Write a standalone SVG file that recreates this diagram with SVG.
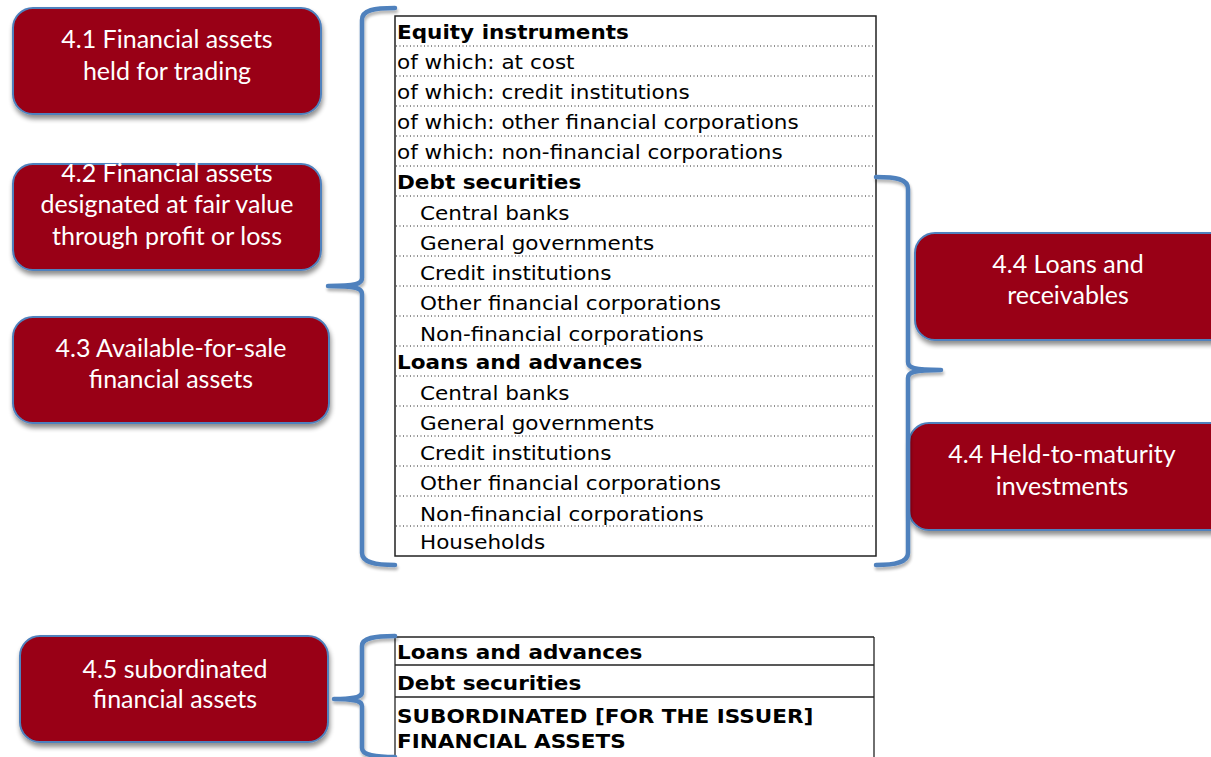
<svg xmlns="http://www.w3.org/2000/svg" width="1211" height="757" viewBox="0 0 1211 757">
<defs>
<filter id="sh" x="-10%" y="-10%" width="120%" height="130%">
<feGaussianBlur in="SourceAlpha" stdDeviation="2.5"/>
<feOffset dx="1" dy="4" result="b"/>
<feComponentTransfer><feFuncA type="linear" slope="0.45"/></feComponentTransfer>
<feMerge><feMergeNode/><feMergeNode in="SourceGraphic"/></feMerge>
</filter>
<filter id="bsh" x="-50%" y="-5%" width="200%" height="110%">
<feGaussianBlur in="SourceAlpha" stdDeviation="1.5"/>
<feOffset dx="1" dy="3"/>
<feComponentTransfer><feFuncA type="linear" slope="0.3"/></feComponentTransfer>
<feMerge><feMergeNode/><feMergeNode in="SourceGraphic"/></feMerge>
</filter>
</defs>
<style>
.box{fill:#990012;stroke:#4F81BD;stroke-width:2;filter:url(#sh)}
.bt{font-family:Lato,"Liberation Sans",sans-serif;font-size:25px;fill:#fff;text-anchor:middle}
.br{fill:none;stroke:#4F81BD;stroke-width:4.5;stroke-linecap:round;stroke-linejoin:round;filter:url(#bsh)}
.tt{font-family:"DejaVu Sans",Verdana,sans-serif;font-size:19.5px;fill:#000}
.b{font-weight:bold}
.dot{stroke:#222;stroke-width:1;stroke-dasharray:1 2.5}
.bd{stroke:#222;stroke-width:1.5;fill:none}
.sl{stroke:#222;stroke-width:1.3}
</style>
<rect width="1211" height="757" fill="#fff"/>

<g id="n41"><rect class="box" x="13" y="8" width="308" height="106" rx="20"/>
<text class="bt" x="167" y="48">4.1 Financial assets</text><text class="bt" x="167" y="80">held for trading</text></g>
<g id="n42"><rect class="box" x="13" y="164" width="308" height="106" rx="20"/>
<text class="bt" x="167" y="182">4.2 Financial assets</text><text class="bt" x="167" y="213">designated at fair value</text><text class="bt" x="167" y="245">through profit or loss</text></g>
<g id="n43"><rect class="box" x="13" y="317" width="316" height="106" rx="20"/>
<text class="bt" x="171" y="357">4.3 Available-for-sale</text><text class="bt" x="171" y="388">financial assets</text></g>
<g id="n44a"><rect class="box" x="915" y="233" width="330" height="107" rx="20"/>
<text class="bt" x="1068" y="273">4.4 Loans and</text><text class="bt" x="1068" y="304">receivables</text></g>
<g id="n44b"><rect class="box" x="909" y="423" width="336" height="107" rx="20"/>
<text class="bt" x="1062" y="463">4.4 Held-to-maturity</text><text class="bt" x="1062" y="495">investments</text></g>
<g id="n45"><rect class="box" x="20" y="636" width="308" height="106" rx="20"/>
<text class="bt" x="175" y="678">4.5 subordinated</text><text class="bt" x="175" y="708">financial assets</text></g>

<g id="table1">
<rect class="bd" x="395" y="16" width="481" height="540"/>
<g>
<line class="dot" x1="396" y1="46" x2="875" y2="46"/>
<line class="dot" x1="396" y1="76" x2="875" y2="76"/>
<line class="dot" x1="396" y1="106" x2="875" y2="106"/>
<line class="dot" x1="396" y1="136" x2="875" y2="136"/>
<line class="dot" x1="396" y1="166" x2="875" y2="166"/>
<line class="dot" x1="396" y1="196" x2="875" y2="196"/>
<line class="dot" x1="396" y1="226" x2="875" y2="226"/>
<line class="dot" x1="396" y1="256" x2="875" y2="256"/>
<line class="dot" x1="396" y1="286" x2="875" y2="286"/>
<line class="dot" x1="396" y1="316" x2="875" y2="316"/>
<line class="dot" x1="396" y1="346" x2="875" y2="346"/>
<line class="dot" x1="396" y1="376" x2="875" y2="376"/>
<line class="dot" x1="396" y1="406" x2="875" y2="406"/>
<line class="dot" x1="396" y1="436" x2="875" y2="436"/>
<line class="dot" x1="396" y1="466" x2="875" y2="466"/>
<line class="dot" x1="396" y1="496" x2="875" y2="496"/>
<line class="dot" x1="396" y1="526" x2="875" y2="526"/>
</g>
<g transform="translate(397 0) scale(1.105 1)">
<text class="tt b" x="0" y="39">Equity instruments</text>
<text class="tt" x="0" y="69">of which: at cost</text>
<text class="tt" x="0" y="99">of which: credit institutions</text>
<text class="tt" x="0" y="129">of which: other financial corporations</text>
<text class="tt" x="0" y="159">of which: non-financial corporations</text>
<text class="tt b" x="0" y="189">Debt securities</text>
<text class="tt" x="20.8" y="220">Central banks</text>
<text class="tt" x="20.8" y="250">General governments</text>
<text class="tt" x="20.8" y="280">Credit institutions</text>
<text class="tt" x="20.8" y="310">Other financial corporations</text>
<text class="tt" x="20.8" y="341">Non-financial corporations</text>
<text class="tt b" x="0" y="369">Loans and advances</text>
<text class="tt" x="20.8" y="400">Central banks</text>
<text class="tt" x="20.8" y="430">General governments</text>
<text class="tt" x="20.8" y="460">Credit institutions</text>
<text class="tt" x="20.8" y="490">Other financial corporations</text>
<text class="tt" x="20.8" y="521">Non-financial corporations</text>
<text class="tt" x="20.8" y="549">Households</text>
</g>
</g>

<g id="table2">
<line class="sl" x1="395" y1="637" x2="874" y2="637"/>
<line class="sl" x1="395" y1="665" x2="874" y2="665"/>
<line class="sl" x1="395" y1="697" x2="874" y2="697"/>
<line class="sl" x1="395" y1="637" x2="395" y2="757"/>
<line class="sl" x1="874" y1="637" x2="874" y2="757"/>
<g transform="translate(397 0) scale(1.105 1)">
<text class="tt b" x="0" y="659">Loans and advances</text>
<text class="tt b" x="0" y="690">Debt securities</text>
<text class="tt b" x="0" y="723">SUBORDINATED [FOR THE ISSUER]</text>
<text class="tt b" x="0" y="748">FINANCIAL ASSETS</text>
</g>
</g>

<g id="connectors">
<path class="br" d="M395,8 C374,8 362,10 362,20 L362,278 C362,284 356,286 328,286 C356,286 362,288 362,294 L362,553 C362,562 374,565 395,565"/>
<path class="br" d="M876,177 C896,177 908,179 908,189 L908,362 C908,368 914,370 941,370 C914,370 908,372 908,378 L908,553 C908,562 896,565 876,565"/>
<path class="br" d="M395,636 C374,636 362,638 362,646 L362,692 C362,697 356,699 334,699 C356,699 362,701 362,706 L362,748 C362,755 374,757 395,757"/>
</g>
</svg>
